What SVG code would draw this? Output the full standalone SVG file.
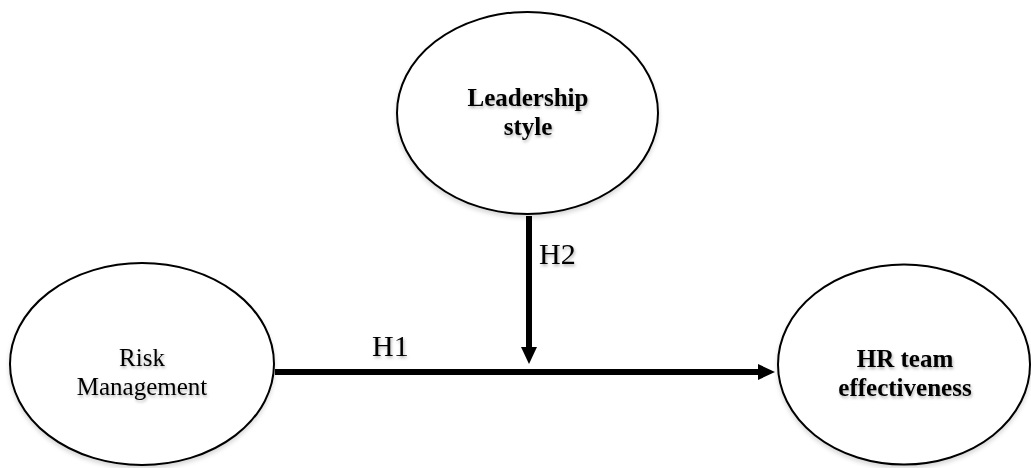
<svg xmlns="http://www.w3.org/2000/svg" width="1031" height="468" viewBox="0 0 1031 468">
  <style>
    .node { fill: #ffffff; stroke: #000000; stroke-width: 2; }
    .label { font-family: "Liberation Serif", "Times New Roman", serif; font-size: 25px; fill: #000000; text-anchor: middle; }
    .bold { font-weight: bold; }
    .hyp { font-family: "Liberation Serif", "Times New Roman", serif; font-size: 30px; fill: #000000; }
    .edge { stroke: #000000; stroke-width: 6; fill: none; }
  </style>
  <defs>
    <filter id="shadow" x="-10%" y="-10%" width="130%" height="140%">
      <feDropShadow dx="1" dy="2" stdDeviation="1.5" flood-color="#000000" flood-opacity="0.3"/>
    </filter>
    <filter id="eshadow" x="-5%" y="-5%" width="115%" height="115%">
      <feDropShadow dx="0" dy="3" stdDeviation="2" flood-color="#000000" flood-opacity="0.15"/>
    </filter>
    <marker id="arrow" markerUnits="userSpaceOnUse" markerWidth="17" markerHeight="16" refX="1" refY="8" orient="auto">
      <polygon points="0,0 17,8 0,16" fill="#000000"/>
    </marker>
  </defs>

  <rect width="1031" height="468" fill="#ffffff"/>

  <g id="connectors">
    <line class="edge" x1="275" y1="372" x2="759" y2="372" marker-end="url(#arrow)"/>
    <line class="edge" x1="529" y1="216" x2="529" y2="348" marker-end="url(#arrow)"/>
    <text class="hyp" x="372" y="356" filter="url(#shadow)">H1</text>
    <text class="hyp" x="539" y="264" filter="url(#shadow)">H2</text>
  </g>

  <g id="node-leadership">
    <ellipse class="node" cx="527.5" cy="113" rx="130.5" ry="101" filter="url(#eshadow)"/>
    <text class="label bold" x="528" y="106" filter="url(#shadow)">Leadership</text>
    <text class="label bold" x="528" y="135" filter="url(#shadow)">style</text>
  </g>

  <g id="node-risk">
    <ellipse class="node" cx="142" cy="364" rx="132" ry="101" filter="url(#eshadow)"/>
    <text class="label" x="142" y="366" filter="url(#shadow)">Risk</text>
    <text class="label" x="142" y="395" filter="url(#shadow)">Management</text>
  </g>

  <g id="node-hr">
    <ellipse class="node" cx="904" cy="364.5" rx="126" ry="100" filter="url(#eshadow)"/>
    <text class="label bold" x="905" y="367" filter="url(#shadow)">HR team</text>
    <text class="label bold" x="905" y="396" filter="url(#shadow)">effectiveness</text>
  </g>
</svg>
